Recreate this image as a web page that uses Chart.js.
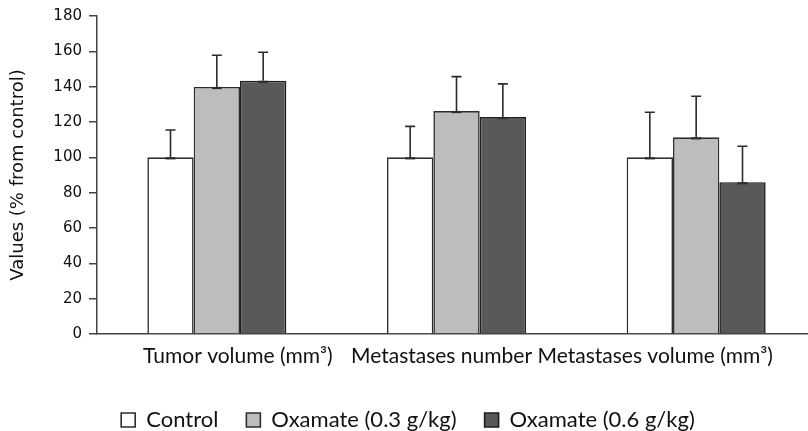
<!DOCTYPE html>
<html>
<head>
<meta charset="utf-8">
<script src="https://cdn.jsdelivr.net/npm/chart.js@4.4.0/dist/chart.umd.min.js"></script>
<style>
html,body{margin:0;padding:0;overflow:hidden;background:#fff;width:808px;height:431px;}
#wrap{width:816px;height:431px;}
</style>
</head>
<body>
<div id="wrap"><canvas id="c" width="816" height="431"></canvas></div>
<script>
const categories = ['Tumor volume (mm\u00B3)', 'Metastases number', 'Metastases volume (mm\u00B3)'];
const seriesNames = ['Control', 'Oxamate (0.3 g/kg)', 'Oxamate (0.6 g/kg)'];
const controlValues = [100, 100, 100];
const controlErrors = [15.5, 17.5, 25.5];
const low03Values = [139.8, 126.2, 111.3];
const low03Errors = [18, 19.5, 23.3];
const high06Values = [143.3, 122.8, 85.9];
const high06Errors = [16.2, 18.8, 20.4];
const yTickValues = [0, 20, 40, 60, 80, 100, 120, 140, 160, 180];
const yTitle = 'Values (% from control)';

// layout-only: horizontal shift of each category label (px)
const labelShift = [21, -15, -41];

const errorSets = [controlErrors, low03Errors, high06Errors];

const errorBars = {
  id: 'errorBars',
  afterDatasetsDraw(chart) {
    const ctx = chart.ctx;
    const y = chart.scales.y;
    ctx.save();
    ctx.strokeStyle = '#2b2b2b';
    chart.data.datasets.forEach((ds, i) => {
      const meta = chart.getDatasetMeta(i);
      meta.data.forEach((bar, j) => {
        const v = ds.data[j];
        const top = y.getPixelForValue(v + errorSets[i][j]);
        const base = y.getPixelForValue(v);
        ctx.lineWidth = 1.6;
        ctx.beginPath();
        ctx.moveTo(bar.x, base);
        ctx.lineTo(bar.x, top);
        ctx.moveTo(bar.x - 5, top);
        ctx.lineTo(bar.x + 5, top);
        ctx.stroke();
        ctx.lineWidth = 2.2;
        ctx.beginPath();
        ctx.moveTo(bar.x - 5, base + 1);
        ctx.lineTo(bar.x + 5, base + 1);
        ctx.stroke();
      });
    });
    ctx.restore();
  }
};

const catLabels = {
  id: 'catLabels',
  afterDraw(chart) {
    const ctx = chart.ctx;
    const x = chart.scales.x;
    ctx.save();
    ctx.font = '21px Lato';
    ctx.fillStyle = '#111';
    ctx.textAlign = 'center';
    ctx.textBaseline = 'alphabetic';
    categories.forEach((c, i) => {
      ctx.fillText(c, x.getPixelForTick(i) + labelShift[i], 363);
    });
    ctx.restore();
  }
};

new Chart(document.getElementById('c'), {
  type: 'bar',
  data: {
    labels: categories,
    datasets: [
      {label: seriesNames[0], data: controlValues, backgroundColor: '#ffffff', borderColor: '#2e2e2e', borderWidth: 1.6},
      {label: seriesNames[1], data: low03Values, backgroundColor: '#bdbdbd', borderColor: '#2e2e2e', borderWidth: 1.6},
      {label: seriesNames[2], data: high06Values, backgroundColor: '#595959', borderColor: '#1e1e1e', borderWidth: 1.6}
    ]
  },
  options: {
    responsive: false,
    animation: false,
    events: [],
    layout: {padding: {top: 16, left: 0, right: 0, bottom: -10}},
    datasets: {bar: {categoryPercentage: 0.58, barPercentage: 1.0}},
    plugins: {
      tooltip: {enabled: false},
      legend: {
        position: 'bottom',
        labels: {
          font: {family: 'Lato', size: 22},
          color: '#111',
          boxWidth: 14,
          boxHeight: 14,
          padding: 28
        }
      }
    },
    scales: {
      x: {
        ticks: {display: false},
        grid: {display: false},
        border: {display: true, color: '#444', width: 1.5},
        afterFit(s) { s.height = 47; }
      },
      y: {
        min: yTickValues[0],
        max: yTickValues[yTickValues.length - 1],
        afterBuildTicks(s) { s.ticks = yTickValues.map(v => ({value: v})); },
        afterFit(s) { s.width = 97; },
        ticks: {font: {family: 'DejaVu Sans', size: 15}, color: '#111', padding: 7},
        grid: {display: true, drawOnChartArea: false, drawTicks: true, tickLength: 8, color: '#444', lineWidth: 1.5},
        border: {display: true, color: '#444', width: 1.5},
        title: {display: true, text: yTitle, font: {family: 'DejaVu Sans', size: 18, lineHeight: 1}, color: '#111', padding: {top: 9, bottom: 0}}
      }
    }
  },
  plugins: [errorBars, catLabels]
});
</script>
</body>
</html>
